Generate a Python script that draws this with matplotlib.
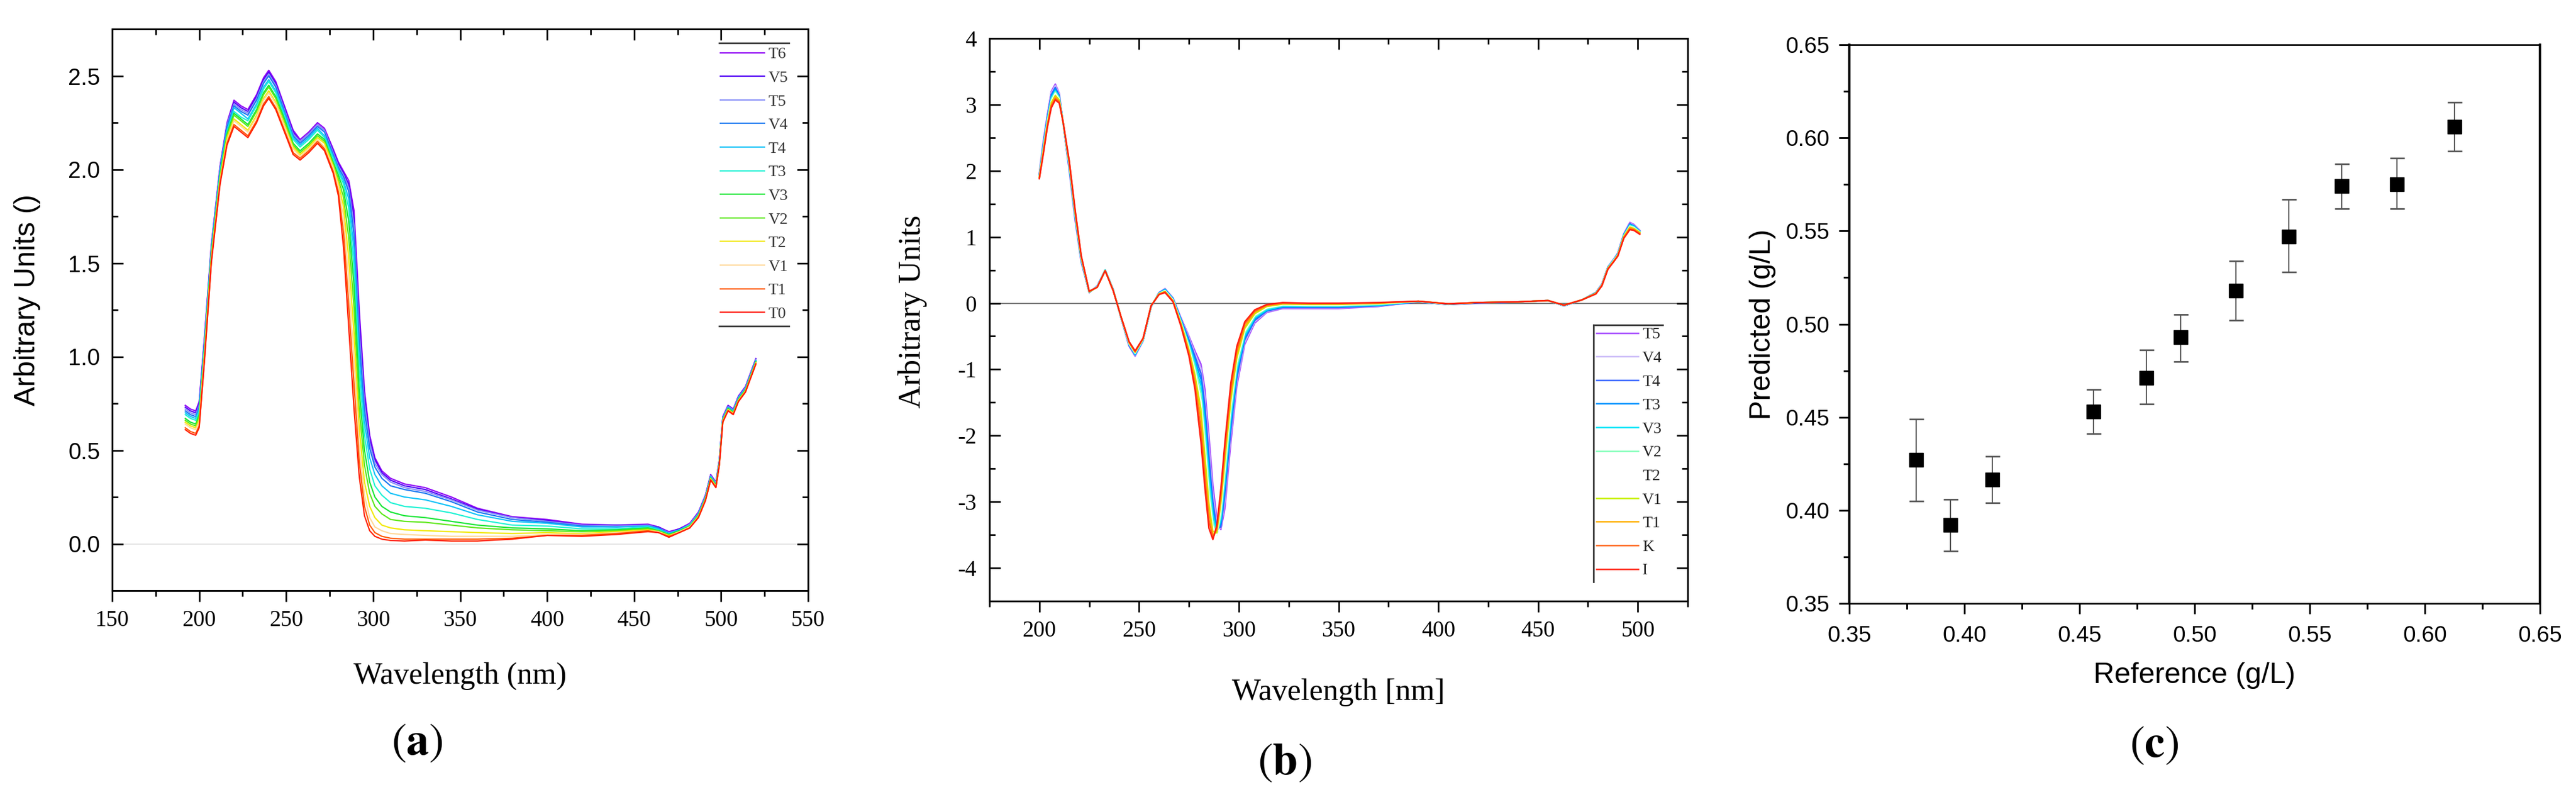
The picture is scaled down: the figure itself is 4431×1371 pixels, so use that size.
import matplotlib
matplotlib.use('Agg')
import matplotlib.pyplot as plt
from matplotlib.ticker import MultipleLocator, FormatStrFormatter
from matplotlib.lines import Line2D

plt.rcParams['axes.unicode_minus'] = False
plt.rcParams['mathtext.fontset'] = 'stix'

SANS = 'Liberation Sans'
SERIF = 'Liberation Serif'

# ---------------- panel (a): spectra ----------------
wl_a = [192, 195, 198, 200, 203, 207, 212, 216, 220, 224, 228, 233, 237, 240, 244, 249, 254, 258, 263, 268, 272, 277,
        280, 283, 286, 289, 292, 295, 298, 301, 305, 310,
        318, 330, 345, 360, 380, 400, 420, 440, 458, 464, 470, 476, 482,
        487, 491, 494, 497, 499, 501, 504, 507, 510, 514, 520]

a_T6 = [0.74, 0.72, 0.71, 0.76, 1.10, 1.60, 2.02, 2.25, 2.37, 2.34, 2.32, 2.40, 2.49, 2.53, 2.47, 2.34, 2.21, 2.16, 2.20, 2.25, 2.22, 2.11,
        2.04, 1.99, 1.94, 1.78, 1.25, 0.82, 0.58, 0.46, 0.39, 0.35,
        0.32, 0.30, 0.25, 0.19, 0.145, 0.13, 0.105, 0.10, 0.105, 0.09, 0.065, 0.08, 0.11,
        0.17, 0.26, 0.37, 0.33, 0.45, 0.68, 0.74, 0.72, 0.79, 0.84, 0.99]
a_V5 = [0.73, 0.71, 0.70, 0.75, 1.09, 1.59, 2.01, 2.24, 2.36, 2.33, 2.31, 2.39, 2.48, 2.52, 2.46, 2.33, 2.20, 2.15, 2.19, 2.24, 2.21, 2.10,
        2.03, 1.98, 1.92, 1.74, 1.20, 0.79, 0.56, 0.45, 0.38, 0.34,
        0.31, 0.29, 0.24, 0.185, 0.14, 0.125, 0.10, 0.10, 0.10, 0.09, 0.06, 0.08, 0.105,
        0.168, 0.258, 0.368, 0.328, 0.448, 0.678, 0.738, 0.718, 0.788, 0.838, 0.988]
a_T5 = [0.72, 0.70, 0.69, 0.74, 1.08, 1.59, 2.01, 2.24, 2.35, 2.32, 2.30, 2.38, 2.47, 2.51, 2.45, 2.32, 2.19, 2.15, 2.19, 2.24, 2.21, 2.09,
        2.02, 1.97, 1.90, 1.70, 1.14, 0.75, 0.54, 0.43, 0.37, 0.33,
        0.30, 0.28, 0.235, 0.18, 0.14, 0.12, 0.10, 0.095, 0.10, 0.085, 0.06, 0.075, 0.105,
        0.165, 0.255, 0.365, 0.325, 0.445, 0.675, 0.735, 0.715, 0.785, 0.835, 0.985]
a_V4 = [0.71, 0.69, 0.68, 0.73, 1.07, 1.58, 2.00, 2.23, 2.34, 2.31, 2.29, 2.37, 2.46, 2.50, 2.44, 2.31, 2.18, 2.14, 2.18, 2.23, 2.20, 2.08,
        2.01, 1.96, 1.88, 1.65, 1.08, 0.71, 0.51, 0.41, 0.35, 0.31,
        0.29, 0.27, 0.225, 0.17, 0.13, 0.115, 0.095, 0.09, 0.095, 0.085, 0.055, 0.075, 0.10,
        0.16, 0.25, 0.36, 0.32, 0.44, 0.67, 0.73, 0.71, 0.78, 0.83, 0.98]
a_T4 = [0.70, 0.68, 0.67, 0.72, 1.06, 1.57, 1.99, 2.21, 2.33, 2.30, 2.27, 2.35, 2.44, 2.48, 2.42, 2.30, 2.17, 2.13, 2.17, 2.22, 2.18, 2.07,
        2.00, 1.94, 1.84, 1.57, 1.00, 0.65, 0.46, 0.37, 0.31, 0.27,
        0.25, 0.235, 0.20, 0.155, 0.12, 0.11, 0.09, 0.09, 0.095, 0.08, 0.055, 0.075, 0.10,
        0.158, 0.248, 0.358, 0.318, 0.438, 0.668, 0.728, 0.708, 0.778, 0.828, 0.978]
a_T3 = [0.69, 0.67, 0.66, 0.70, 1.05, 1.56, 1.98, 2.20, 2.31, 2.28, 2.26, 2.34, 2.43, 2.47, 2.41, 2.28, 2.16, 2.12, 2.16, 2.21, 2.17, 2.06,
        1.99, 1.92, 1.79, 1.48, 0.92, 0.58, 0.40, 0.31, 0.26, 0.22,
        0.20, 0.19, 0.165, 0.13, 0.10, 0.095, 0.08, 0.08, 0.09, 0.075, 0.05, 0.07, 0.10,
        0.155, 0.245, 0.355, 0.315, 0.435, 0.665, 0.725, 0.705, 0.775, 0.825, 0.975]
a_V3 = [0.67, 0.65, 0.64, 0.69, 1.03, 1.55, 1.97, 2.19, 2.30, 2.27, 2.24, 2.32, 2.41, 2.45, 2.39, 2.27, 2.14, 2.10, 2.14, 2.19, 2.16, 2.04,
        1.97, 1.89, 1.72, 1.38, 0.82, 0.50, 0.33, 0.25, 0.20, 0.17,
        0.15, 0.14, 0.12, 0.10, 0.085, 0.08, 0.07, 0.075, 0.085, 0.07, 0.05, 0.07, 0.095,
        0.153, 0.243, 0.353, 0.313, 0.433, 0.663, 0.723, 0.703, 0.773, 0.823, 0.973]
a_V2 = [0.66, 0.64, 0.63, 0.68, 1.02, 1.54, 1.96, 2.18, 2.29, 2.26, 2.23, 2.31, 2.40, 2.44, 2.38, 2.26, 2.13, 2.09, 2.13, 2.18, 2.15, 2.03,
        1.95, 1.85, 1.63, 1.26, 0.72, 0.42, 0.27, 0.20, 0.16, 0.13,
        0.12, 0.115, 0.10, 0.085, 0.075, 0.07, 0.065, 0.07, 0.08, 0.07, 0.045, 0.065, 0.095,
        0.15, 0.24, 0.35, 0.31, 0.43, 0.66, 0.72, 0.70, 0.77, 0.82, 0.97]
a_T2 = [0.65, 0.63, 0.62, 0.66, 1.01, 1.53, 1.95, 2.17, 2.27, 2.24, 2.21, 2.29, 2.38, 2.42, 2.36, 2.24, 2.12, 2.08, 2.12, 2.17, 2.14, 2.02,
        1.93, 1.80, 1.52, 1.12, 0.62, 0.33, 0.20, 0.14, 0.10, 0.085,
        0.075, 0.07, 0.065, 0.06, 0.055, 0.06, 0.055, 0.065, 0.075, 0.065, 0.045, 0.065, 0.09,
        0.148, 0.238, 0.348, 0.308, 0.428, 0.658, 0.718, 0.698, 0.768, 0.818, 0.968]
a_V1 = [0.64, 0.62, 0.61, 0.65, 1.00, 1.52, 1.94, 2.15, 2.26, 2.23, 2.20, 2.28, 2.37, 2.41, 2.35, 2.23, 2.11, 2.07, 2.11, 2.16, 2.12, 2.01,
        1.91, 1.74, 1.40, 0.98, 0.52, 0.26, 0.14, 0.09, 0.07, 0.055,
        0.05, 0.045, 0.04, 0.04, 0.04, 0.05, 0.05, 0.06, 0.07, 0.065, 0.04, 0.065, 0.09,
        0.145, 0.235, 0.345, 0.305, 0.425, 0.655, 0.715, 0.695, 0.765, 0.815, 0.965]
a_T1 = [0.62, 0.60, 0.59, 0.63, 0.98, 1.51, 1.93, 2.14, 2.24, 2.21, 2.18, 2.26, 2.35, 2.39, 2.33, 2.21, 2.09, 2.06, 2.10, 2.15, 2.11, 1.99,
        1.88, 1.66, 1.27, 0.85, 0.44, 0.20, 0.10, 0.06, 0.04, 0.03,
        0.025, 0.025, 0.025, 0.025, 0.03, 0.045, 0.045, 0.055, 0.07, 0.06, 0.04, 0.06, 0.085,
        0.143, 0.233, 0.343, 0.303, 0.423, 0.653, 0.713, 0.693, 0.763, 0.813, 0.963]
a_T0 = [0.61, 0.59, 0.58, 0.62, 0.97, 1.50, 1.92, 2.13, 2.23, 2.20, 2.17, 2.25, 2.34, 2.38, 2.32, 2.20, 2.08, 2.05, 2.09, 2.14, 2.10, 1.98,
        1.86, 1.58, 1.15, 0.72, 0.36, 0.15, 0.07, 0.04, 0.025, 0.018,
        0.015, 0.02, 0.015, 0.015, 0.025, 0.045, 0.04, 0.05, 0.065, 0.06, 0.035, 0.06, 0.085,
        0.14, 0.23, 0.34, 0.30, 0.42, 0.65, 0.71, 0.69, 0.76, 0.81, 0.96]

labels_a = ['T6', 'V5', 'T5', 'V4', 'T4', 'T3', 'V3', 'V2', 'T2', 'V1', 'T1', 'T0']
colors_a = ['#8f00f5', '#5000f5', '#8890f8', '#1a78f0', '#10c2f8', '#1ef2d4',
            '#16e634', '#5ee81a', '#f2e800', '#ffd898', '#ff5800', '#ff1e00']
spec_a = [a_T6, a_V5, a_T5, a_V4, a_T4, a_T3, a_V3, a_V2, a_T2, a_V1, a_T1, a_T0]

# ---------------- panel (b): derivative spectra ----------------
wl_b = [200, 202, 204, 206, 208, 210, 212, 215, 218, 221, 225, 229, 233, 237, 241, 245, 248, 252, 256, 260,
        263, 267, 271, 275, 278, 281, 283, 285, 287, 289, 291, 293, 296, 299, 303, 308, 314, 322, 335, 350, 370,
        390, 405, 420, 440, 455, 463, 472, 479, 482, 485, 488, 490, 493, 496, 498, 501]

b_T5 = [1.97, 2.45, 2.85, 3.20, 3.31, 3.17, 2.70, 2.00, 1.24, 0.62, 0.16, 0.26, 0.50, 0.21, -0.23, -0.65, -0.80, -0.57, -0.06, 0.16,
        0.22, 0.08, -0.22, -0.50, -0.72, -0.92, -1.30, -2.00, -2.75, -3.25, -3.42, -3.10, -2.10, -1.25, -0.62, -0.30, -0.14, -0.08, -0.08, -0.08, -0.05,
        0.02, -0.02, 0.00, 0.02, 0.04, -0.04, 0.05, 0.16, 0.29, 0.55, 0.67, 0.76, 1.05, 1.22, 1.19, 1.10]
b_V4 = [1.96, 2.43, 2.83, 3.18, 3.29, 3.16, 2.70, 2.02, 1.26, 0.63, 0.16, 0.26, 0.50, 0.21, -0.23, -0.64, -0.79, -0.57, -0.06, 0.16,
        0.22, 0.08, -0.23, -0.52, -0.76, -0.98, -1.42, -2.15, -2.88, -3.33, -3.40, -3.00, -2.00, -1.19, -0.59, -0.28, -0.13, -0.07, -0.07, -0.07, -0.045,
        0.02, -0.02, 0.00, 0.02, 0.04, -0.04, 0.05, 0.16, 0.29, 0.55, 0.67, 0.76, 1.04, 1.21, 1.18, 1.10]
b_T4 = [1.95, 2.41, 2.81, 3.15, 3.26, 3.14, 2.70, 2.03, 1.27, 0.64, 0.16, 0.26, 0.50, 0.21, -0.23, -0.64, -0.78, -0.56, -0.06, 0.16,
        0.21, 0.07, -0.24, -0.55, -0.80, -1.06, -1.55, -2.30, -3.00, -3.40, -3.38, -2.90, -1.92, -1.13, -0.55, -0.26, -0.12, -0.065, -0.065, -0.065, -0.04,
        0.02, -0.02, 0.00, 0.02, 0.04, -0.04, 0.05, 0.16, 0.29, 0.54, 0.66, 0.75, 1.04, 1.20, 1.17, 1.09]
b_T3 = [1.94, 2.39, 2.79, 3.13, 3.24, 3.12, 2.71, 2.05, 1.29, 0.65, 0.17, 0.25, 0.50, 0.20, -0.22, -0.63, -0.78, -0.56, -0.05, 0.15,
        0.21, 0.07, -0.25, -0.58, -0.85, -1.15, -1.70, -2.45, -3.10, -3.45, -3.33, -2.80, -1.83, -1.07, -0.52, -0.24, -0.11, -0.055, -0.055, -0.055, -0.035,
        0.02, -0.02, 0.01, 0.02, 0.04, -0.04, 0.05, 0.16, 0.28, 0.54, 0.66, 0.75, 1.03, 1.19, 1.17, 1.09]
b_V3 = [1.93, 2.37, 2.77, 3.10, 3.21, 3.11, 2.71, 2.06, 1.30, 0.66, 0.17, 0.25, 0.50, 0.20, -0.22, -0.62, -0.77, -0.56, -0.05, 0.15,
        0.20, 0.06, -0.26, -0.61, -0.90, -1.25, -1.85, -2.60, -3.20, -3.48, -3.27, -2.70, -1.74, -1.01, -0.49, -0.22, -0.10, -0.045, -0.045, -0.045, -0.03,
        0.025, -0.015, 0.01, 0.02, 0.04, -0.035, 0.05, 0.15, 0.28, 0.54, 0.66, 0.74, 1.03, 1.18, 1.16, 1.08]
b_V2 = [1.93, 2.35, 2.75, 3.08, 3.19, 3.10, 2.71, 2.08, 1.32, 0.67, 0.17, 0.25, 0.50, 0.20, -0.22, -0.62, -0.76, -0.55, -0.05, 0.15,
        0.19, 0.05, -0.28, -0.64, -0.96, -1.36, -2.00, -2.75, -3.30, -3.50, -3.20, -2.60, -1.65, -0.95, -0.45, -0.20, -0.08, -0.035, -0.04, -0.04, -0.02,
        0.025, -0.015, 0.01, 0.02, 0.04, -0.035, 0.05, 0.15, 0.28, 0.53, 0.65, 0.74, 1.02, 1.17, 1.15, 1.08]
b_T2 = [1.92, 2.33, 2.73, 3.05, 3.17, 3.08, 2.71, 2.09, 1.34, 0.68, 0.17, 0.25, 0.49, 0.20, -0.22, -0.61, -0.75, -0.55, -0.05, 0.14,
        0.19, 0.05, -0.29, -0.67, -1.02, -1.48, -2.15, -2.90, -3.38, -3.50, -3.12, -2.50, -1.56, -0.89, -0.42, -0.18, -0.07, -0.025, -0.03, -0.03, -0.01,
        0.025, -0.015, 0.01, 0.02, 0.04, -0.035, 0.05, 0.15, 0.28, 0.53, 0.65, 0.73, 1.01, 1.16, 1.14, 1.07]
b_V1 = [1.91, 2.31, 2.71, 3.03, 3.14, 3.07, 2.71, 2.11, 1.35, 0.69, 0.17, 0.24, 0.49, 0.20, -0.21, -0.60, -0.74, -0.54, -0.04, 0.14,
        0.18, 0.04, -0.30, -0.70, -1.08, -1.60, -2.30, -3.02, -3.45, -3.47, -3.03, -2.40, -1.47, -0.83, -0.38, -0.16, -0.05, -0.015, -0.02, -0.02, -0.005,
        0.03, -0.01, 0.01, 0.02, 0.04, -0.03, 0.05, 0.15, 0.27, 0.53, 0.64, 0.73, 1.01, 1.15, 1.13, 1.07]
b_T1 = [1.90, 2.29, 2.69, 3.00, 3.12, 3.05, 2.72, 2.12, 1.37, 0.70, 0.18, 0.24, 0.49, 0.19, -0.21, -0.59, -0.74, -0.54, -0.04, 0.14,
        0.17, 0.03, -0.32, -0.73, -1.15, -1.75, -2.48, -3.15, -3.50, -3.43, -2.95, -2.28, -1.38, -0.77, -0.35, -0.14, -0.04, -0.005, -0.01, -0.01, 0.0,
        0.03, -0.01, 0.01, 0.02, 0.04, -0.03, 0.05, 0.15, 0.27, 0.52, 0.64, 0.72, 1.00, 1.14, 1.12, 1.06]
b_K = [1.89, 2.27, 2.67, 2.98, 3.09, 3.04, 2.72, 2.14, 1.38, 0.71, 0.18, 0.24, 0.49, 0.19, -0.21, -0.59, -0.73, -0.53, -0.04, 0.13,
       0.17, 0.03, -0.33, -0.77, -1.22, -1.92, -2.65, -3.28, -3.55, -3.40, -2.88, -2.20, -1.29, -0.71, -0.31, -0.12, -0.03, 0.0, -0.005, -0.005, 0.005,
       0.03, -0.01, 0.01, 0.02, 0.04, -0.03, 0.05, 0.14, 0.27, 0.52, 0.63, 0.72, 0.99, 1.12, 1.11, 1.05]
b_I = [1.88, 2.25, 2.65, 2.95, 3.07, 3.02, 2.72, 2.15, 1.40, 0.72, 0.18, 0.24, 0.49, 0.19, -0.21, -0.58, -0.72, -0.53, -0.04, 0.13,
       0.16, 0.02, -0.35, -0.80, -1.30, -2.10, -2.80, -3.40, -3.57, -3.35, -2.80, -2.10, -1.20, -0.65, -0.28, -0.10, -0.02, 0.01, 0.0, 0.0, 0.01,
       0.03, -0.01, 0.01, 0.02, 0.04, -0.03, 0.05, 0.14, 0.26, 0.51, 0.63, 0.71, 0.98, 1.11, 1.10, 1.04]

labels_b = ['T5', 'V4', 'T4', 'T3', 'V3', 'V2', 'T2', 'V1', 'T1', 'K', 'I']
colors_b = ['#a040ff', '#c8b8f8', '#3060ff', '#0090ff', '#00e4f8', '#80ffb8',
            '#ffffff', '#c8f000', '#ffb000', '#ff6418', '#ff2010']
spec_b = [b_T5, b_V4, b_T4, b_T3, b_V3, b_V2, b_T2, b_V1, b_T1, b_K, b_I]

# ---------------- panel (c): predicted vs reference ----------------
ref_c = [0.379, 0.394, 0.412, 0.456, 0.479, 0.494, 0.518, 0.541, 0.564, 0.588, 0.613]
pred_c = [0.427, 0.392, 0.4165, 0.453, 0.471, 0.493, 0.518, 0.547, 0.574, 0.575, 0.606]
pred_lo = [0.405, 0.378, 0.404, 0.441, 0.457, 0.480, 0.502, 0.528, 0.562, 0.562, 0.593]
pred_hi = [0.449, 0.406, 0.429, 0.465, 0.486, 0.505, 0.534, 0.567, 0.586, 0.589, 0.619]

W, H = 4431, 1371
fig = plt.figure(figsize=(W / 100, H / 100), dpi=100)


def box(l, t, r, b):
    return [l / W, 1 - b / H, (r - l) / W, (b - t) / H]


def fig_line(xs, ys, **kw):
    fig.add_artist(Line2D([x / W for x in xs], [1 - y / H for y in ys], **kw))


ax_a = fig.add_axes(box(193, 50, 1390, 1016))
ax_b = fig.add_axes(box(1702, 66, 2903, 1034))
ax_c = fig.add_axes(box(3181, 77, 4369, 1038))


def style_spectrum_axes(ax, xmaj, xmin, ymaj, ymin, yfmt, ysize, yfamily, ypad, xpad):
    ax.xaxis.set_major_locator(MultipleLocator(xmaj))
    ax.xaxis.set_minor_locator(MultipleLocator(xmin))
    ax.yaxis.set_major_locator(MultipleLocator(ymaj))
    ax.yaxis.set_minor_locator(MultipleLocator(ymin))
    ax.yaxis.set_major_formatter(FormatStrFormatter(yfmt))
    ax.tick_params(axis='x', which='major', direction='out', length=14, width=2, pad=xpad,
                   labelsize=28, labelfontfamily=SERIF, top=False)
    ax.tick_params(axis='x', which='minor', direction='out', length=7.5, width=2, top=False)
    ax.tick_params(axis='y', which='major', direction='in', length=14, width=2, pad=ypad,
                   labelsize=ysize, labelfontfamily=yfamily, left=True, right=True)
    ax.tick_params(axis='y', which='minor', direction='in', length=7, width=2, left=True, right=True)
    for s in ax.spines.values():
        s.set_linewidth(2.2)
    sec = ax.secondary_xaxis('top')
    sec.xaxis.set_major_locator(MultipleLocator(xmaj))
    sec.xaxis.set_minor_locator(MultipleLocator(xmin))
    sec.tick_params(which='major', direction='in', length=14, width=2, labeltop=False)
    sec.tick_params(which='minor', direction='in', length=7, width=2)
    for s in sec.spines.values():
        s.set_visible(False)


# (a)
for vals, lab, col in zip(spec_a, labels_a, colors_a):
    ax_a.plot(wl_a, vals, color=col, lw=1.6, label=lab)
ax_a.axhline(0, color='#e0e0e0', lw=1.2, zorder=0)
ax_a.set_xlim(150, 550)
ax_a.set_ylim(-0.25, 2.75)
style_spectrum_axes(ax_a, 50, 25, 0.5, 0.25, '%.1f', 28.5, SANS, 15, 10)
ax_a.set_xlabel('Wavelength (nm)', fontfamily=SERIF, fontsize=38)
ax_a.xaxis.set_label_coords(0.5, -0.152)
ax_a.xaxis.label.set_va('center')
ax_a.set_ylabel('Arbitrary Units ()', fontfamily=SANS, fontsize=36)
ax_a.yaxis.set_label_coords(-0.122, 0.518)
ax_a.yaxis.label.set_va('center')
ax_a.legend(loc='upper left', bbox_to_anchor=(1239 / W, 1 - 81 / H), bbox_transform=fig.transFigure,
            frameon=False, prop={'family': SERIF, 'size': 20}, labelcolor='#333333',
            handlelength=2.73, handletextpad=0.25, labelspacing=0.545, borderpad=0, borderaxespad=0)
fig_line([1237, 1357], [74, 74], color='#333333', lw=2)
fig_line([1237, 1357], [561, 561], color='#333333', lw=2)

# (b)
for vals, lab, col in zip(spec_b, labels_b, colors_b):
    ax_b.plot(wl_b, vals, color=col, lw=1.8, label=lab)
ax_b.axhline(0, color='#808080', lw=1.5, zorder=0)
ax_b.set_xlim(175, 525)
ax_b.set_ylim(-4.5, 4)
style_spectrum_axes(ax_b, 50, 25, 1, 0.5, '%d', 28, SERIF, 16, 9.5)
ax_b.set_xlabel('Wavelength [nm]', fontfamily=SERIF, fontsize=38)
ax_b.xaxis.set_label_coords(0.5, -0.162)
ax_b.xaxis.label.set_va('center')
ax_b.set_ylabel('Arbitrary Units', fontfamily=SERIF, fontsize=39)
ax_b.yaxis.set_label_coords(-0.110, 0.515)
ax_b.yaxis.label.set_va('center')
ax_b.legend(loc='upper left', bbox_to_anchor=(2746 / W, 1 - 563 / H), bbox_transform=fig.transFigure,
            frameon=False, prop={'family': SERIF, 'size': 20}, labelcolor='#222222',
            handlelength=2.6, handletextpad=0.25, labelspacing=0.545, borderpad=0, borderaxespad=0)
fig_line([2741, 2860], [559, 559], color='#333333', lw=2)
fig_line([2741, 2741], [559, 1001], color='#333333', lw=2)

# (c)
yerr = [[p - lo for p, lo in zip(pred_c, pred_lo)], [hi - p for p, hi in zip(pred_c, pred_hi)]]
ax_c.errorbar(ref_c, pred_c, yerr=yerr, fmt='s', color='black', ms=17, ecolor='#555555',
              elinewidth=1.5, capsize=9, capthick=2)
ax_c.set_xlim(0.35, 0.65)
ax_c.set_ylim(0.35, 0.65)
for axis in (ax_c.xaxis, ax_c.yaxis):
    axis.set_major_locator(MultipleLocator(0.05))
    axis.set_minor_locator(MultipleLocator(0.025))
    axis.set_major_formatter(FormatStrFormatter('%.2f'))
ax_c.tick_params(which='major', direction='out', length=13, width=2.2, labelsize=28,
                 labelfontfamily=SANS, top=False, right=False)
ax_c.tick_params(which='minor', direction='out', length=7, width=2.2, top=False, right=False)
ax_c.tick_params(axis='x', which='major', pad=14)
ax_c.tick_params(axis='y', which='major', pad=11.5)
ax_c.spines['left'].set_linewidth(3)
ax_c.spines['right'].set_linewidth(3)
ax_c.spines['top'].set_linewidth(2)
ax_c.spines['bottom'].set_linewidth(2)
ax_c.set_xlabel('Reference (g/L)', fontfamily=SANS, fontsize=36)
ax_c.xaxis.set_label_coords(0.5, -0.129)
ax_c.xaxis.label.set_va('center')
ax_c.set_ylabel('Predicted (g/L)', fontfamily=SANS, fontsize=36)
ax_c.yaxis.set_label_coords(-0.1254, 0.5)
ax_c.yaxis.label.set_va('center')

# panel captions
fig.text(717 / W, 1 - 1276 / H, r'$(\mathbf{a})$', ha='center', va='center', fontsize=56)
fig.text(2210 / W, 1 - 1310 / H, r'$(\mathbf{b})$', ha='center', va='center', fontsize=56)
fig.text(3705 / W, 1 - 1280 / H, r'$(\mathbf{c})$', ha='center', va='center', fontsize=56)

fig.savefig('out.png', dpi=100)
